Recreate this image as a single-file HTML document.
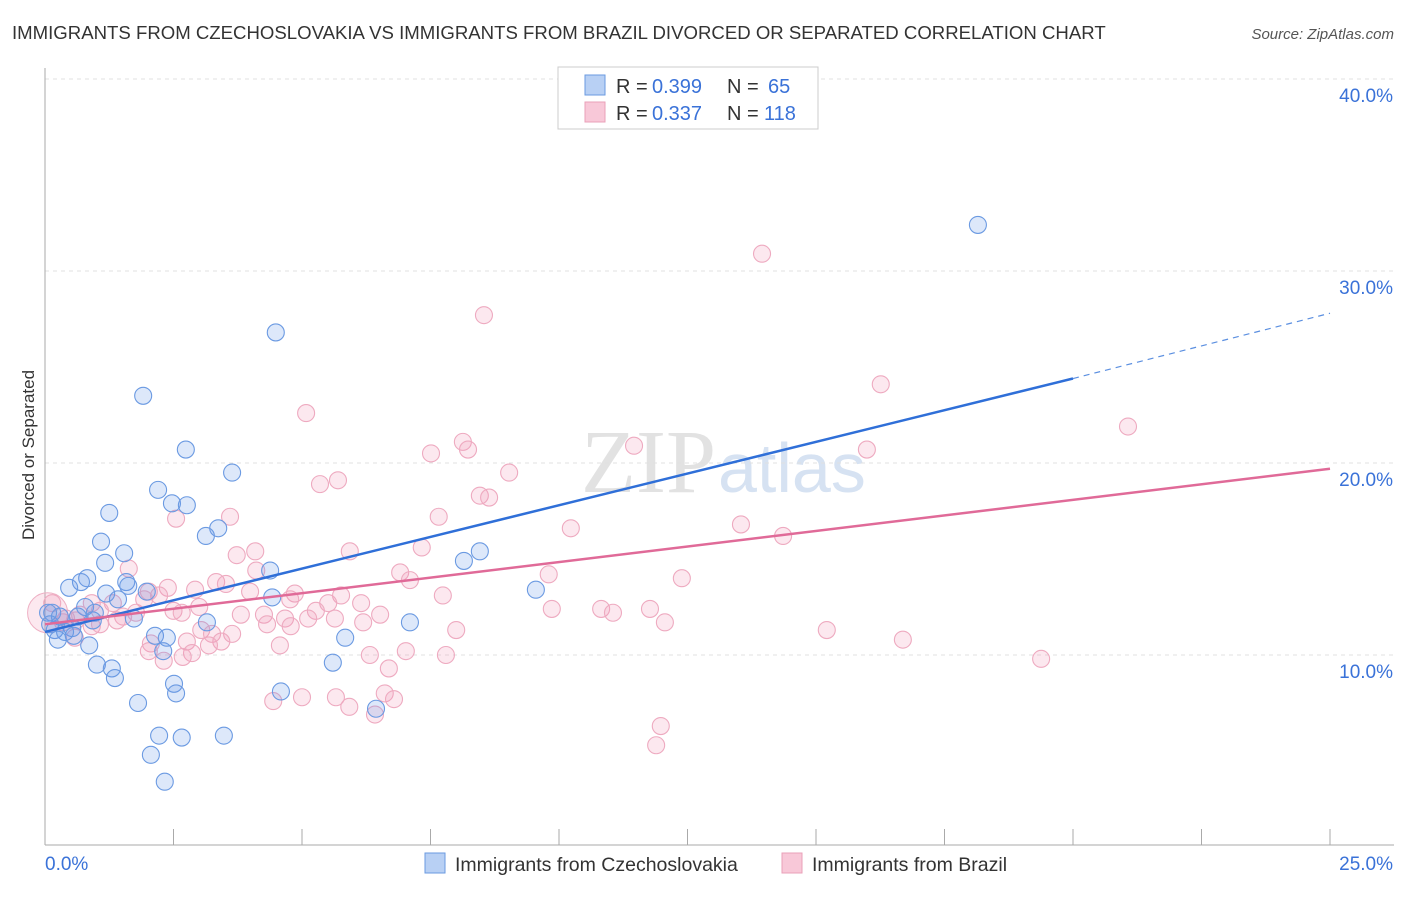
<!DOCTYPE html>
<html><head><meta charset="utf-8"><style>
body{margin:0;background:#fff;font-family:"Liberation Sans",sans-serif}
</style></head><body>
<svg id="chart" width="1406" height="892" xmlns="http://www.w3.org/2000/svg" style="font-family:'Liberation Sans',sans-serif">
<text x="12" y="39" font-size="18.6" fill="#333">IMMIGRANTS FROM CZECHOSLOVAKIA VS IMMIGRANTS FROM BRAZIL DIVORCED OR SEPARATED CORRELATION CHART</text>
<text x="1394" y="39" font-size="15" fill="#555" font-style="italic" text-anchor="end">Source: ZipAtlas.com</text>
<text x="34" y="455" font-size="17" fill="#333" text-anchor="middle" transform="rotate(-90 34 455)">Divorced or Separated</text>
<text x="716" y="492" font-size="90" fill="#e2e2e2" text-anchor="end" font-family="Liberation Serif">ZIP</text>
<text x="718" y="492" font-size="70" fill="#d6e2f2">atlas</text>
<g id="grid"></g><g id="pts"></g><g id="lines"></g>
<g>
<rect x="558" y="67" width="260" height="62" fill="#fff" stroke="#ccc"/>
<rect x="585" y="75" width="20" height="20" fill="#b8d0f4" stroke="#6a9ae0"/>
<rect x="585" y="102" width="20" height="20" fill="#f8c8d8" stroke="#eaa0b8"/>
<text x="616" y="93" font-size="20" fill="#333">R =</text><text x="652" y="93" font-size="20" fill="#3a72d8">0.399</text>
<text x="727" y="93" font-size="20" fill="#333">N =</text><text x="768" y="93" font-size="20" fill="#3a72d8">65</text>
<text x="616" y="120" font-size="20" fill="#333">R =</text><text x="652" y="120" font-size="20" fill="#3a72d8">0.337</text>
<text x="727" y="120" font-size="20" fill="#333">N =</text><text x="764" y="120" font-size="20" fill="#3a72d8">118</text>
</g>
<g>
<rect x="425" y="853" width="20" height="20" fill="#b8d0f4" stroke="#6a9ae0"/>
<text x="455" y="871" font-size="19.5" fill="#333">Immigrants from Czechoslovakia</text>
<rect x="782" y="853" width="20" height="20" fill="#f8c8d8" stroke="#eaa0b8"/>
<text x="812" y="871" font-size="19.5" fill="#333">Immigrants from Brazil</text>
</g>
</svg>
<script>
const xTicks=[0,2.5,5,7.5,10,12.5,15,17.5,20,22.5,25];
const yTicks=[10,20,30,40];
const yTickLabels=["10.0%","20.0%","30.0%","40.0%"];
const blueX=[18.15,4.49,1.91,2.74,3.64,2.2,2.47,2.76,1.25,3.37,3.13,1.09,1.54,8.46,8.15,1.17,4.38,0.82,0.7,1.58,1.62,0.47,9.55,1.98,1.19,4.42,1.42,0.78,0.14,0.97,0.64,0.29,1.73,0.93,7.1,3.15,0.53,0.19,0.39,0.56,2.14,2.37,5.84,0.25,0.86,2.3,5.6,1.01,1.3,1.36,2.51,2.55,4.59,1.81,6.44,2.22,2.66,3.48,2.06,2.33,0.06,0.1];
const blueY=[32.4,26.8,23.5,20.7,19.5,18.6,17.9,17.8,17.4,16.6,16.2,15.9,15.3,15.4,14.9,14.8,14.4,14.0,13.8,13.8,13.6,13.5,13.4,13.3,13.2,13.0,12.9,12.5,12.2,12.2,12.0,12.0,11.9,11.8,11.7,11.7,11.4,11.3,11.2,11.0,11.0,10.9,10.9,10.8,10.5,10.2,9.6,9.5,9.3,8.8,8.5,8.0,8.1,7.5,7.2,5.8,5.7,5.8,4.8,3.4,12.2,11.6];
const pinkX=[13.95,8.54,16.26,5.08,21.07,8.13,11.46,8.23,15.99,7.51,9.03,5.7,5.35,8.46,8.64,7.66,3.6,2.55,13.54,10.23,14.36,7.33,5.93,4.09,3.73,1.63,4.11,6.91,9.8,7.1,12.39,3.33,3.52,2.39,2.92,2.02,2.22,3.99,4.86,5.76,7.74,1.93,4.77,5.51,6.15,1.32,0.91,0.14,3.0,2.5,9.86,10.82,11.05,11.77,5.27,1.77,1.07,2.66,3.81,4.26,6.52,1.52,4.67,5.12,5.64,1.4,0.6,0.35,6.19,4.32,12.06,0.91,4.78,15.21,8.0,3.04,3.25,3.64,0.58,16.69,2.76,3.43,2.06,4.57,3.19,7.02,2.86,7.8,2.02,6.32,2.68,2.31,19.38,6.69,5.0,6.61,4.44,5.66,6.79,5.92,6.42,11.98,11.89,0.41,0.68,1.07];
const pinkY=[30.9,27.7,24.1,22.6,21.9,21.1,20.9,20.7,20.7,20.5,19.5,19.1,18.9,18.3,18.2,17.2,17.2,17.1,16.8,16.6,16.2,15.6,15.4,15.4,15.2,14.5,14.4,14.3,14.2,13.9,14.0,13.8,13.7,13.5,13.4,13.3,13.1,13.3,13.2,13.1,13.1,12.9,12.9,12.7,12.7,12.7,12.7,12.7,12.5,12.3,12.4,12.4,12.2,12.4,12.3,12.2,12.3,12.2,12.1,12.1,12.1,12.0,11.9,11.9,11.9,11.8,11.8,11.7,11.7,11.6,11.7,11.5,11.5,11.3,11.3,11.3,11.1,11.1,10.9,10.8,10.7,10.7,10.6,10.5,10.5,10.2,10.1,10.0,10.2,10.0,9.9,9.7,9.8,9.3,7.8,8.0,7.6,7.8,7.7,7.3,6.9,6.3,5.3,11.9,12.1,11.6];
const blueLine=[[0,11.2],[20,24.4]], blueDash=[[20,24.4],[25,27.8]];
const pinkLine=[[0,11.6],[25,19.7]];
const X=v=>45+v/25*1285, Y=v=>847-v*19.2;
const NS="http://www.w3.org/2000/svg";
function mk(t,a,p){const e=document.createElementNS(NS,t);for(const k in a)e.setAttribute(k,a[k]);p.appendChild(e);return e;}
const grid=document.getElementById('grid'),svg=document.getElementById('chart');
yTicks.forEach((t,i)=>{
 const l=mk('line',{x1:45,x2:1394,y1:Y(t),y2:Y(t),stroke:'#e0e0e0','stroke-dasharray':'4,4'},grid);
 
 
 const tx=mk('text',{x:1393,y:Y(t)+23,'font-size':19,fill:'#3a72d8','text-anchor':'end'},grid);tx.textContent=yTickLabels[i];
 
 
});
const ax=mk('line',{x1:45,x2:1394,y1:845,y2:845,stroke:'#aaa'},grid);


mk('line',{x1:45,x2:45,y1:68,y2:845,stroke:'#aaa'},grid);
xTicks.forEach(t=>{const l=mk('line',{x1:X(t),x2:X(t),y1:829,y2:845,stroke:'#aaa'},grid);
 
 });
let t0=mk('text',{x:45,y:870,'font-size':19,fill:'#3a72d8'},grid);t0.textContent="0.0%";


let t1=mk('text',{x:1393,y:870,'font-size':19,fill:'#3a72d8','text-anchor':'end'},grid);t1.textContent="25.0%";


const pts=document.getElementById('pts');
const big1=mk('circle',{cx:X(0.05),cy:Y(12.2),r:20,fill:'rgba(240,150,180,0.22)',stroke:'#eeb0c4'},pts);


pinkX.forEach((x,i)=>{const c=mk('circle',{cx:X(x),cy:Y(pinkY[i]),r:8.5,fill:'rgba(240,150,180,0.22)',stroke:'#eeaac0','stroke-width':1.1},pts);
 
 });
blueX.forEach((x,i)=>{const c=mk('circle',{cx:X(x),cy:Y(blueY[i]),r:8.5,fill:'rgba(100,150,230,0.22)',stroke:'#6b9ae2','stroke-width':1.1},pts);
 
 });
const lines=document.getElementById('lines');
const bl=mk('line',{x1:X(blueLine[0][0]),y1:Y(blueLine[0][1]),x2:X(blueLine[1][0]),y2:Y(blueLine[1][1]),stroke:'#2f6fd8','stroke-width':2.5},lines);


const bd=mk('line',{x1:X(blueDash[0][0]),y1:Y(blueDash[0][1]),x2:X(blueDash[1][0]),y2:Y(blueDash[1][1]),stroke:'#5b8fe0','stroke-width':1.2,'stroke-dasharray':'6,5'},lines);


const pl=mk('line',{x1:X(pinkLine[0][0]),y1:Y(pinkLine[0][1]),x2:X(pinkLine[1][0]),y2:Y(pinkLine[1][1]),stroke:'#e06a98','stroke-width':2.5},lines);


</script>
</body></html>
